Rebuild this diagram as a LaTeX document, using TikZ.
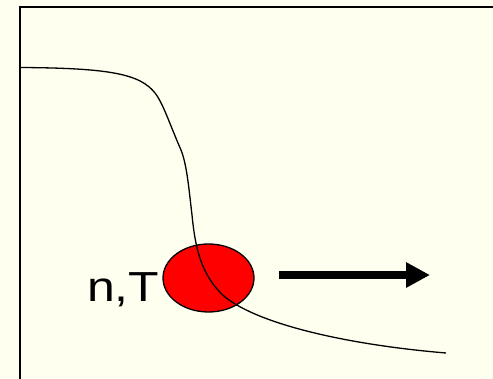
\documentclass[tikz,border=0pt]{standalone}
\usepackage{fontspec}
\setmainfont{Liberation Sans}
\usetikzlibrary{arrows.meta,shapes.geometric}
\definecolor{paper}{RGB}{255,255,240}

\begin{document}
\begin{tikzpicture}[x=1pt, y=-1pt, >={Triangle[length=24pt,width=24pt]},
    frame/.style={line width=2pt},
    profile/.style={line width=1.3pt},
    blob/.style={ellipse, draw, line width=1.3pt, fill=red, minimum width=91pt, minimum height=68pt, inner sep=0pt}]
    \useasboundingbox (0,0) rectangle (493,379);
    \fill[paper] (0,0) rectangle (493,379);
    \draw[frame] (19.5,385) -- (19.5,7) -- (500,7);
    \node[blob] (blob) at (208.5,278) {};
    % density profile
    \draw[profile] (19.5,67.5) .. controls (110,68) and (140,74) .. (155,93)
        .. controls (163,103) and (170,125) .. (181,150)
        .. controls (187,165) and (189,190) .. (192,215)
        .. controls (195,245) and (200,275) .. (225,297)
        .. controls (260,325) and (350,345) .. (446,353);
    \node[anchor=base east, inner sep=0pt, font=\fontsize{42}{42}\selectfont] (label) at (159.5,302) {\scalebox{1.19}[1]{n,T}};
    \coordinate (tail) at (279,275);
    \coordinate (head) at (430,275);
    \draw[->, line width=8pt] (tail) -- (head);
\end{tikzpicture}
\end{document}
